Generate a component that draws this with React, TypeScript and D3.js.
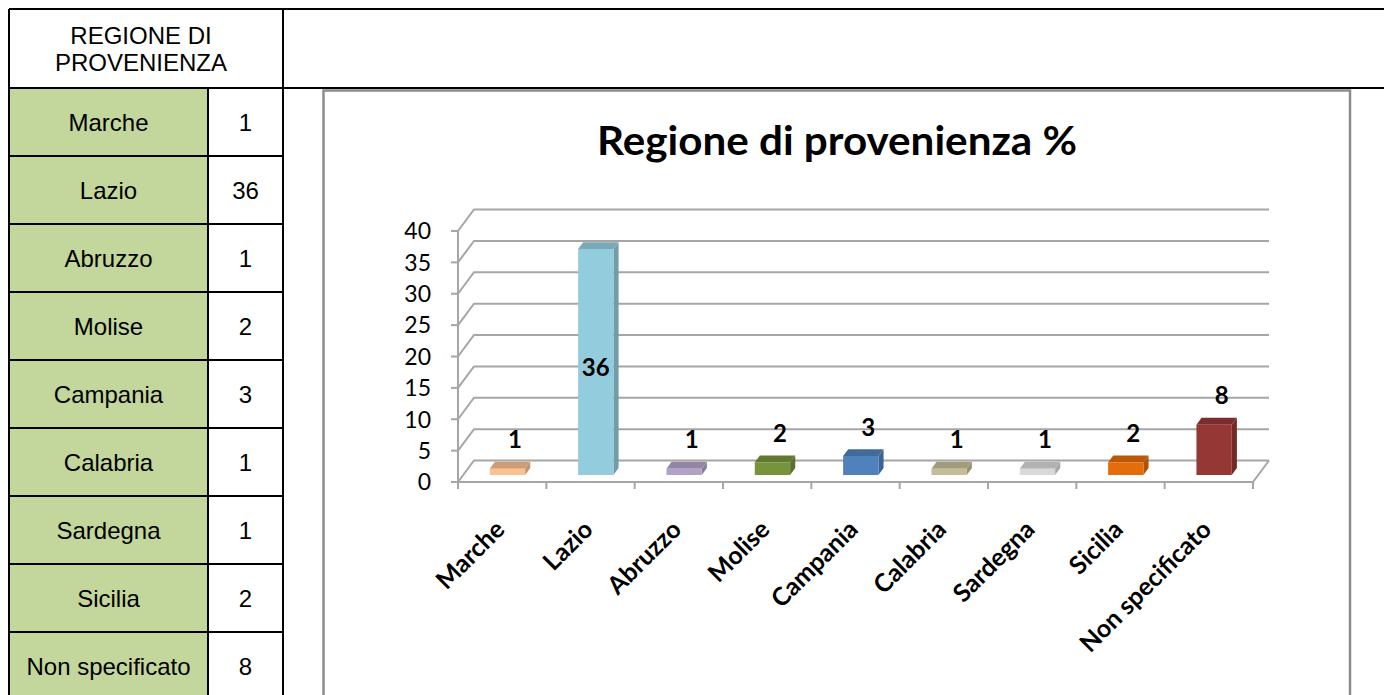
import { color, range, scaleBand, scaleLinear } from "d3";

const width = 1384;
const height = 695;

const regions = [
  "Marche",
  "Lazio",
  "Abruzzo",
  "Molise",
  "Campania",
  "Calabria",
  "Sardegna",
  "Sicilia",
  "Non specificato",
];
const values = [1, 36, 1, 2, 3, 1, 1, 2, 8];
const barColours = [
  "#fac090",
  "#93cddd",
  "#b3a2c7",
  "#77933c",
  "#4f81bd",
  "#c4bd97",
  "#d9d9d9",
  "#e46c0a",
  "#953735",
];
const yTicks = [0, 5, 10, 15, 20, 25, 30, 35, 40];
const headerLines = ["REGIONE DI", "PROVENIENZA"];
const title = "Regione di provenienza %";

// table layout
const tLeft = 9;
const tTop = 9;
const headBottom = 88;
const rowH = 68;
const col1 = 208;
const col2 = 283;

// 3d offset of the back wall
const DX = 16;
const DY = 21.5;
// bar depth, as fraction of the floor depth
const z0 = 0.33;
const z1 = 0.65;

const tableFont = "'Liberation Sans', Arial, sans-serif";
const chartFont = "Lato, Carlito, Calibri, sans-serif";

export default function App() {
  const x = scaleBand<string>()
    .domain(regions)
    .range([458, 1253])
    .paddingInner(0.6)
    .paddingOuter(0.3);
  const y = scaleLinear().domain([0, 40]).range([482, 231]);
  const step = x.step();
  const bw = x.bandwidth();
  const [xStart, xEnd] = x.range();
  const tickXs = range(regions.length + 1).map((i) => xStart + i * step);

  const proj = (px: number, v: number, z: number): [number, number] => [
    px + z * DX,
    y(v) - z * DY,
  ];
  const pts = (arr: [number, number][]) =>
    arr.map((p) => p.join(",")).join(" ");

  const tableBottom = headBottom + rowH * regions.length;

  return (
    <svg
      width={width}
      height={height}
      style={{ position: "absolute", left: 0, top: 0, background: "#fff" }}
    >
      {/* table */}
      <g fontFamily={tableFont} fontSize={24} fill="#000">
        {regions.map((r, i) => (
          <rect
            key={`bg${r}`}
            x={tLeft}
            y={headBottom + i * rowH}
            width={col1 - tLeft}
            height={rowH}
            fill="#c3d69b"
          />
        ))}
        {headerLines.map((t, i) => (
          <text key={t} x={141} y={44 + i * 26.5} textAnchor="middle">
            {t}
          </text>
        ))}
        {regions.map((r, i) => (
          <g key={`row${r}`}>
            <text
              x={(tLeft + col1) / 2}
              y={headBottom + i * rowH + rowH / 2 + 9}
              textAnchor="middle"
            >
              {r}
            </text>
            <text
              x={(col1 + col2) / 2}
              y={headBottom + i * rowH + rowH / 2 + 9}
              textAnchor="middle"
            >
              {values[i]}
            </text>
          </g>
        ))}
        <g stroke="#000" strokeWidth={2}>
          <line x1={tLeft} x2={width} y1={tTop} y2={tTop} />
          <line x1={tLeft} x2={width} y1={headBottom} y2={headBottom} />
          {regions.slice(0, -1).map((r, i) => (
            <line
              key={`hl${r}`}
              x1={tLeft}
              x2={col2}
              y1={headBottom + (i + 1) * rowH}
              y2={headBottom + (i + 1) * rowH}
            />
          ))}
          <line x1={tLeft} x2={tLeft} y1={tTop} y2={tableBottom} />
          <line x1={col1} x2={col1} y1={headBottom} y2={tableBottom} />
          <line x1={col2} x2={col2} y1={tTop} y2={tableBottom} />
        </g>
      </g>

      {/* chart frame */}
      <rect
        x={323.5}
        y={90.5}
        width={1350 - 323.5}
        height={700}
        fill="#fff"
        stroke="#8c8c8c"
        strokeWidth={2.5}
      />
      <text
        x={837}
        y={155}
        textAnchor="middle"
        fontFamily={chartFont}
        fontWeight="bold"
        fontSize={40}
        textLength={480}
        lengthAdjust="spacingAndGlyphs"
      >
        {title}
      </text>

      {/* gridlines: left side wall + back wall */}
      <g stroke="#a6a6a6" strokeWidth={2} fill="none">
        {yTicks.map((t) => {
          const [fx, fy] = proj(xStart, t, 0);
          const [bx, by] = proj(xStart, t, 1);
          const [ex] = proj(xEnd, t, 1);
          return (
            <polyline
              key={`g${t}`}
              points={pts([
                [fx, fy],
                [bx, by],
                [ex, by],
              ])}
            />
          );
        })}
        {/* floor */}
        <polyline
          points={pts([
            proj(xStart, 0, 0),
            proj(xEnd, 0, 0),
            proj(xEnd, 0, 1),
          ])}
        />
        {/* axes */}
        <line x1={xStart} x2={xStart} y1={y(0)} y2={y(40)} />
        {yTicks.map((t) => (
          <line key={`yt${t}`} x1={451} x2={xStart} y1={y(t)} y2={y(t)} />
        ))}
        {tickXs.map((tx, i) => (
          <line key={`xt${i}`} x1={tx} x2={tx} y1={y(0)} y2={y(0) + 7} />
        ))}
      </g>
      <g fontFamily={chartFont} fontSize={23} textAnchor="end">
        {yTicks.map((t) => (
          <text key={`yl${t}`} x={431} y={y(t)} dy="0.36em">
            {t}
          </text>
        ))}
      </g>

      {/* bars */}
      {regions.map((r, i) => {
        const v = values[i];
        const c = barColours[i];
        const left = x(r) ?? 0;
        const right = left + bw;
        const front = pts([
          proj(left, 0, z0),
          proj(right, 0, z0),
          proj(right, v, z0),
          proj(left, v, z0),
        ]);
        const side = pts([
          proj(right, 0, z0),
          proj(right, 0, z1),
          proj(right, v, z1),
          proj(right, v, z0),
        ]);
        const top = pts([
          proj(left, v, z0),
          proj(right, v, z0),
          proj(right, v, z1),
          proj(left, v, z1),
        ]);
        return (
          <g key={`bar${r}`}>
            <polygon points={side} fill={color(c)?.darker(0.75).toString()} />
            <polygon points={top} fill={color(c)?.darker(0.55).toString()} />
            <polygon points={front} fill={c} />
          </g>
        );
      })}

      {/* data labels */}
      <g
        fontFamily={chartFont}
        fontSize={24}
        fontWeight="bold"
        textAnchor="middle"
      >
        {regions.map((r, i) => {
          const v = values[i];
          const cx = (x(r) ?? 0) + bw / 2;
          const inside = v > 0.8 * 40;
          const [lx, ly] = inside
            ? [cx + z0 * DX, (y(0) + y(v)) / 2 - z0 * DY + 5]
            : [cx + 0.8 * DX, y(v) - 0.8 * DY - 19];
          return (
            <text key={`dl${r}`} x={lx} y={ly} dy="0.36em">
              {v}
            </text>
          );
        })}
      </g>

      {/* category labels */}
      <g
        fontFamily={chartFont}
        fontSize={25}
        fontWeight="bold"
        textAnchor="end"
      >
        {regions.map((r) => {
          const cx = (x(r) ?? 0) + bw / 2 + 4;
          return (
            <text
              key={`xl${r}`}
              transform={`translate(${cx},531) rotate(-45)`}
            >
              {r}
            </text>
          );
        })}
      </g>
    </svg>
  );
}
